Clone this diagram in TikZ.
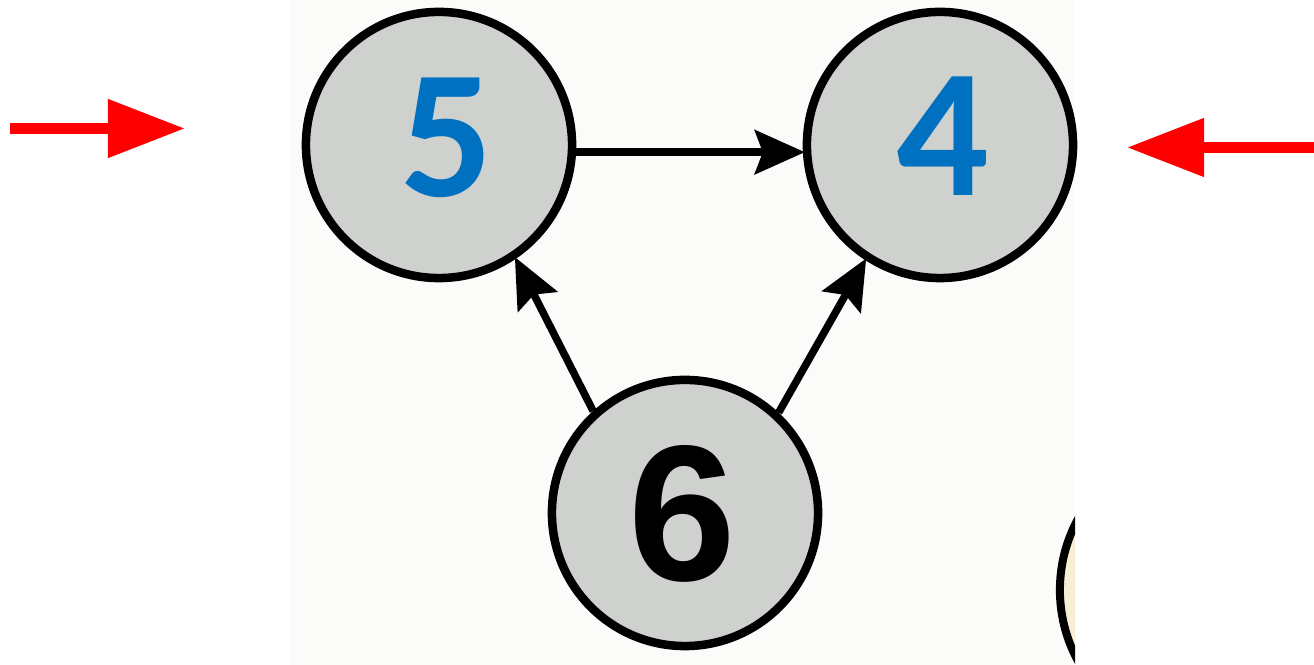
\documentclass[tikz,border=0pt]{standalone}
\usepackage{fontspec}
\setmainfont{Liberation Sans}
\newfontfamily\calbold{Carlito Bold}
\usetikzlibrary{arrows.meta}
\definecolor{numblue}{RGB}{0,112,192}
\definecolor{discgray}{RGB}{206,209,206}
\definecolor{scanbg}{RGB}{251,251,250}
\definecolor{creamfill}{RGB}{248,238,212}
\tikzset{
  disc/.style={circle, draw=black, line width=0.085cm, fill=discgray, minimum size=2.66cm, inner sep=0pt},
  bluenum/.style={text=numblue, inner sep=0pt, font=\calbold\fontsize{52}{52}\selectfont},
  blacknum/.style={text=black, inner sep=0pt, font=\bfseries\fontsize{55}{55}\selectfont},
  link/.style={line width=0.075cm, -{Stealth[length=0.5cm, width=0.44cm, inset=0.08cm]}, shorten >=-0.02cm},
  redarrow/.style={draw=red, line width=0.11cm, -{Triangle[length=0.77cm, width=0.56cm]}}
}
\begin{document}
\begin{tikzpicture}[x=0.01cm, y=-0.01cm]
\useasboundingbox (0,0) rectangle (1314,665);
% scanned background
\fill[scanbg] (290,0) rectangle (1075,665);
% cropped circle at bottom right
\begin{scope}
  \clip (290,0) rectangle (1075,665);
  \draw[line width=0.08cm, fill=creamfill] (1208,590) circle[radius=1.48cm];
\end{scope}
% nodes
\node[disc] (five) at (439,145) {};
\node[disc] (four) at (940,145) {};
\node[disc] (six) at (685,513) {};
\node[bluenum] (fivetext) at (447,138) {5};
\node[bluenum] (fourtext) at (943,136) {4};
\node[blacknum] (sixtext) at (682,514) {6};
% connectors
\draw[link] (five.-3) -- (four.-177);
\draw[link] (six.132) -- (five.-56);
\draw[link] (six.47) -- (four.-123);
% red arrows
\coordinate (lstart) at (10,128.5);
\coordinate (lend) at (185,128.5);
\coordinate (rstart) at (1314,147.5);
\coordinate (rend) at (1127,147.5);
\draw[redarrow] (lstart) -- (lend);
\draw[redarrow] (rstart) -- (rend);
\end{tikzpicture}
\end{document}
